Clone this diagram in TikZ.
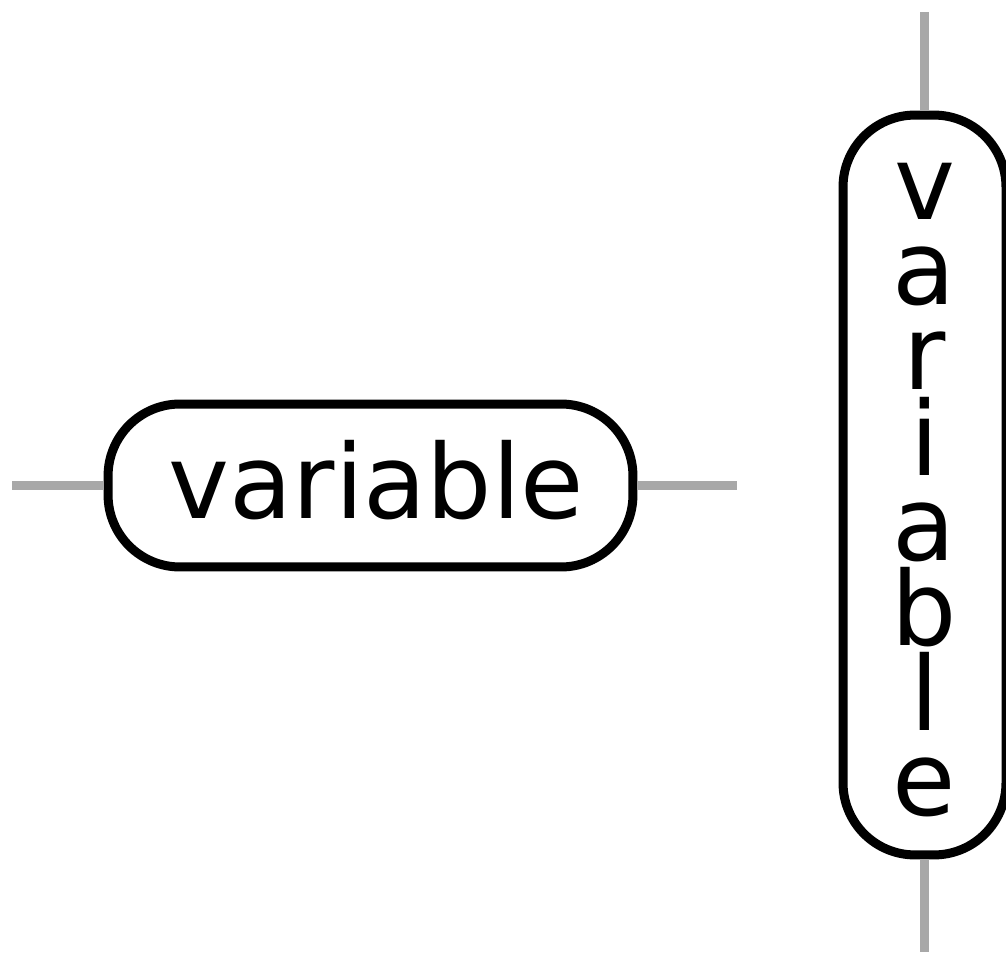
\documentclass[tikz,border=0pt]{standalone}
\usepackage{fontspec}
\setmainfont{DejaVu Sans}
\definecolor{wiregray}{HTML}{A8A8A8}
\begin{document}
\begin{tikzpicture}[x=0.02cm,y=-0.02cm,
  box/.style={draw=black,line width=0.18cm,rounded corners=1.44cm,inner sep=0pt,fill=white},
  wire/.style={draw=wiregray,line width=0.18cm},
  lbl/.style={inner sep=0pt,anchor=base,font=\fontsize{58.6}{70}\selectfont}]
\useasboundingbox (0,0) rectangle (1006,955);
% horizontal terminal
\node[box,minimum width=10.5cm,minimum height=3.26cm] (hbox) at (370.5,485.5) {};
\node[lbl] (htext) at (376.5,518) {variable};
\coordinate (wl) at (12,485.5);
\coordinate (wr) at (737,485.5);
\draw[wire] (wl) -- (hbox.west);
\draw[wire] (hbox.east) -- (wr);
% vertical terminal
\node[box,minimum width=3.26cm,minimum height=14.8cm] (vbox) at (924.5,485) {};
\foreach \ch [count=\k from 0] in {v,a,r,i,a,b,l,e}
  \node[lbl] (v\k) at (924.5,220+85*\k) {\ch};
\coordinate (vt) at (924.5,12);
\coordinate (vb) at (924.5,952);
\draw[wire] (vt) -- (vbox.north);
\draw[wire] (vbox.south) -- (vb);
\end{tikzpicture}
\end{document}
